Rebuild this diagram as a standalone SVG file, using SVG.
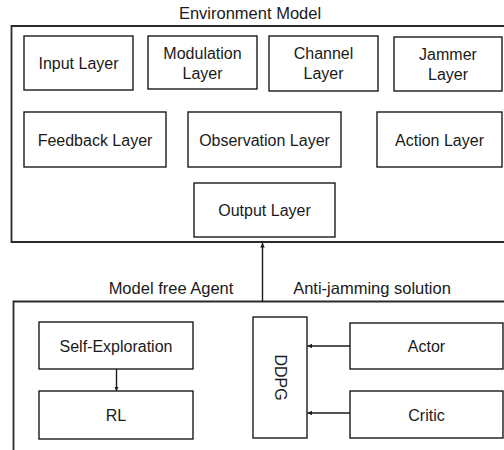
<svg xmlns="http://www.w3.org/2000/svg" width="504" height="450" viewBox="0 0 504 450">
<defs>
<style>
.box{fill:#fff;stroke:#1a1a1a;stroke-width:1.4}
.frame{fill:none;stroke:#2a2a2a;stroke-width:1.8}
.t{font-family:"Liberation Sans",Arial,sans-serif;font-size:16px;fill:#1a1a1a;text-anchor:middle}
.c{stroke:#1a1a1a;stroke-width:1.4;fill:none;marker-end:url(#ah)}
</style>
<marker id="ah" viewBox="0 0 10 10" refX="10" refY="5" markerWidth="4.5" markerHeight="4.5" markerUnits="userSpaceOnUse" orient="auto">
<path d="M0,0 L10,5 L0,10 z" fill="#1a1a1a"/>
</marker>
</defs>
<rect width="504" height="450" fill="#fff"/>

<g id="environment-model">
<path class="frame" d="M506,26 H11.5 V242 H506"/>
<text class="t" x="250" y="19" style="font-size:16.5px">Environment Model</text>
</g>

<g id="input-layer"><rect class="box" x="24" y="36" width="109" height="54"/><text class="t" x="78.5" y="69">Input Layer</text></g>
<g id="modulation-layer"><rect class="box" x="148" y="36" width="109" height="53"/><text class="t" x="202.5" y="59">Modulation</text><text class="t" x="202.5" y="79">Layer</text></g>
<g id="channel-layer"><rect class="box" x="269" y="36" width="109" height="55"/><text class="t" x="323.5" y="59">Channel</text><text class="t" x="323.5" y="79">Layer</text></g>
<g id="jammer-layer"><rect class="box" x="394" y="37" width="108" height="54"/><text class="t" x="448" y="60">Jammer</text><text class="t" x="448" y="80">Layer</text></g>
<g id="feedback-layer"><rect class="box" x="24" y="112" width="142" height="55"/><text class="t" x="95" y="145.5">Feedback Layer</text></g>
<g id="observation-layer"><rect class="box" x="188" y="112" width="153" height="55"/><text class="t" x="264.5" y="145.5">Observation Layer</text></g>
<g id="action-layer"><rect class="box" x="377" y="112" width="125" height="55"/><text class="t" x="439.5" y="145.5">Action Layer</text></g>
<g id="output-layer"><rect class="box" x="194" y="183" width="141" height="54"/><text class="t" x="264.5" y="216">Output Layer</text></g>

<g id="agent-frame">
<path class="frame" d="M506,301.5 H13.5 V452"/>
<text class="t" x="171" y="294" style="font-size:16.5px">Model free Agent</text>
<text class="t" x="372" y="294" style="font-size:16.5px">Anti-jamming solution</text>
</g>

<g id="self-exploration"><rect class="box" x="39" y="322" width="154" height="47"/><text class="t" x="116" y="351.5">Self-Exploration</text></g>
<g id="rl"><rect class="box" x="39" y="391" width="154" height="48"/><text class="t" x="116" y="421">RL</text></g>
<g id="ddpg"><rect class="box" x="253" y="317" width="54" height="121"/><text class="t" x="280" y="377.5" dominant-baseline="central" transform="rotate(90 280 377.5)">DDPG</text></g>
<g id="actor"><rect class="box" x="350" y="323" width="153" height="46"/><text class="t" x="426.5" y="352">Actor</text></g>
<g id="critic"><rect class="box" x="350" y="391" width="153" height="47"/><text class="t" x="426.5" y="420.5">Critic</text></g>

<g id="connectors">
<line class="c" x1="262.5" y1="301.5" x2="262.5" y2="243"/>
<line class="c" x1="116.5" y1="369" x2="116.5" y2="391"/>
<line class="c" x1="350" y1="346" x2="307.5" y2="346"/>
<line class="c" x1="350" y1="413" x2="307.5" y2="413"/>
</g>
</svg>
